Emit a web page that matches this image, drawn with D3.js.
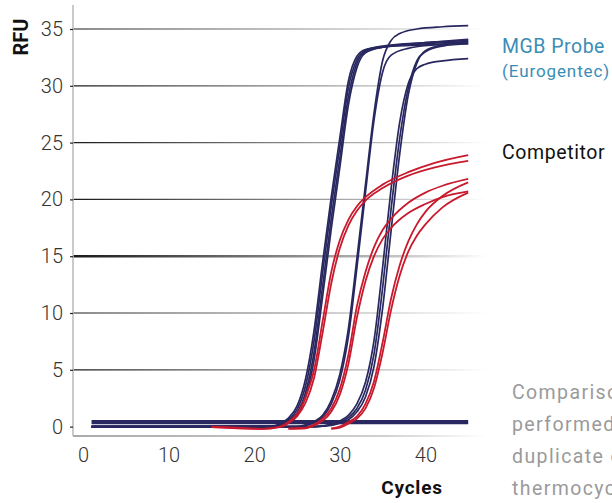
<!DOCTYPE html>
<html>
<head>
<meta charset="utf-8">
<script src="https://cdn.jsdelivr.net/npm/d3@7"></script>
<style>
  html, body { margin: 0; padding: 0; background: #fff; overflow: hidden; }
  svg { display: block; }
</style>
</head>
<body>
<svg id="chart" width="612" height="503"></svg>
<script>
// ---- Data ----
const yTicks = [0, 5, 10, 15, 20, 25, 30, 35];
const xTicks = [0, 10, 20, 30, 40];

// MGB Probe (Eurogentec) curves: [cycle, RFU]
const probeNTC = [[1, 0.4], [45, 0.4]];
const probeA1 = [[1,0],[22,0],[23,0.2],[24,0.6],[25,1.5],[26,3.6],[27,7.6],[28,13.6],[29,19.4],[30,24.6],[31,29.8],[32,32.3],[33,33.1],[35,33.5],[40,33.8],[45,34.0]];
const probeA2 = [[1,0],[22,0],[23,0.15],[24,0.5],[25,1.2],[26,3.0],[27,6.6],[28,12.4],[29,18.3],[30,23.6],[31,29.0],[32,32.0],[33,33.0],[35,33.4],[40,33.7],[45,33.9]];
const probeA3 = [[1,0],[22,0.05],[23,0.25],[24,0.75],[25,1.8],[26,4.2],[27,8.5],[28,14.5],[29,20.2],[30,25.4],[31,30.4],[32,32.6],[33,33.2],[35,33.4],[40,33.6],[45,33.7]];
const probeA4 = [[1,0],[22,0],[23,0.1],[24,0.4],[25,1.0],[26,2.6],[27,5.9],[28,11.5],[29,17.4],[30,22.8],[31,28.3],[32,31.6],[33,32.9],[35,33.4],[40,33.8],[45,34.1]];
const probeB1 = [[1,0],[25,0],[26,0.15],[27,0.45],[28,1.0],[29,2.3],[30,4.6],[31,8.6],[32,14.8],[33,21.3],[34,27.6],[35,32.2],[36,34.0],[37,34.6],[39,35.0],[42,35.2],[45,35.3]];
const probeB2 = [[1,0],[25,0],[26,0.1],[27,0.35],[28,0.85],[29,2.0],[30,4.1],[31,7.9],[32,14.0],[33,20.6],[34,27.0],[35,31.2],[36,32.7],[38,33.3],[41,33.6],[45,33.8]];
const probeC1 = [[1,0],[27,0],[29,0.2],[30,0.5],[31,1.0],[32,2.0],[33,3.9],[34,7.6],[35,14.0],[36,21.0],[37,26.8],[38,30.2],[39,31.5],[40,31.9],[42,32.2],[45,32.4]];
const probeC2 = [[1,0],[27,0],[29,0.15],[30,0.4],[31,0.8],[32,1.6],[33,3.2],[34,6.4],[35,12.2],[36,19.2],[37,25.4],[38,29.8],[39,32.2],[40,33.0],[42,33.5],[45,33.7]];
const probeC3 = [[1,0],[27,0],[29,0.1],[30,0.3],[31,0.6],[32,1.3],[33,2.6],[34,5.3],[35,10.4],[36,17.3],[37,24.0],[38,29.2],[39,32.0],[40,33.1],[42,33.6],[45,33.9]];

// Competitor curves: [cycle, RFU]
const compA1 = [[15,0],[18,-0.1],[21,-0.2],[23,0],[24,0.4],[25,1.1],[26,2.6],[27,5.0],[28,9.3],[29,13.6],[30,16.4],[31,18.2],[32,19.4],[33,20.2],[35,21.3],[38,22.4],[41,23.2],[45,23.9]];
const compA2 = [[15,-0.05],[18,-0.15],[21,-0.2],[23,-0.05],[24,0.3],[25,0.9],[26,2.1],[27,4.3],[28,8.3],[29,12.6],[30,15.7],[31,17.7],[32,19.0],[33,19.9],[35,21.0],[38,22.1],[41,22.8],[45,23.4]];
const compB1 = [[24,-0.15],[26,-0.1],[27,0.2],[28,0.7],[29,1.6],[30,3.3],[31,6.3],[32,10.6],[33,13.6],[34,15.8],[35,17.3],[36,18.3],[38,19.7],[40,20.6],[42,21.2],[45,21.8]];
const compB2 = [[24,-0.2],[26,-0.15],[27,0.1],[28,0.5],[29,1.3],[30,2.8],[31,5.5],[32,9.6],[33,12.8],[34,15.0],[35,16.5],[36,17.5],[38,18.8],[40,19.6],[42,20.2],[45,20.7]];
const compC1 = [[29,-0.15],[30,0],[31,0.4],[32,0.9],[33,2.0],[34,4.0],[35,7.4],[36,11.3],[37,14.2],[38,16.3],[39,17.8],[40,18.9],[42,20.3],[45,21.5]];
const compC2 = [[29,-0.2],[30,-0.1],[31,0.25],[32,0.7],[33,1.6],[34,3.4],[35,6.5],[36,10.3],[37,13.3],[38,15.4],[39,16.8],[40,17.8],[42,19.3],[45,20.6]];

const probeSeries = [probeA1, probeA2, probeA3, probeA4, probeB1, probeB2, probeC1, probeC2, probeC3];
const compSeries = [compA1, compA2, compB1, compB2, compC1, compC2];

const legendLabels = ["MGB Probe", "(Eurogentec)", "Competitor"];
const noteLines = ["Comparison of", "performed in", "duplicate on a", "thermocycler"];

// ---- Drawing ----
const svg = d3.select("#chart");
const navy = "#28275f";
const red = "#c8192d";
const axisX = 73, axisBottom = 436, gridEnd = 487;

const x = d3.scaleLinear().domain([0, 45]).range([83, 468.2]);
const y = d3.scaleLinear().domain([0, 35]).range([426.6, 29]);

const defs = svg.append("defs");
const g1 = defs.append("linearGradient").attr("id", "gridGrad")
  .attr("gradientUnits", "userSpaceOnUse")
  .attr("x1", axisX).attr("x2", gridEnd).attr("y1", 0).attr("y2", 0);
g1.append("stop").attr("offset", "0%").attr("stop-color", "#1a1a1a");
g1.append("stop").attr("offset", "45%").attr("stop-color", "#777");
g1.append("stop").attr("offset", "80%").attr("stop-color", "#c8c8c8");
g1.append("stop").attr("offset", "100%").attr("stop-color", "#fff");
const g2 = defs.append("linearGradient").attr("id", "axisGrad")
  .attr("gradientUnits", "userSpaceOnUse")
  .attr("x1", axisX).attr("x2", gridEnd).attr("y1", 0).attr("y2", 0);
g2.append("stop").attr("offset", "0%").attr("stop-color", "#aaa");
g2.append("stop").attr("offset", "75%").attr("stop-color", "#d0d0d0");
g2.append("stop").attr("offset", "100%").attr("stop-color", "#fff");

// gridlines
svg.append("g").selectAll("line").data(yTicks.filter(d => d > 0)).join("line")
  .attr("x1", axisX).attr("x2", gridEnd)
  .attr("y1", d => y(d)).attr("y2", d => y(d))
  .attr("stroke", "url(#gridGrad)")
  .attr("stroke-width", d => d === 15 ? 2.4 : 1.2);

// y axis line
svg.append("line").attr("x1", axisX).attr("x2", axisX).attr("y1", 5).attr("y2", axisBottom)
  .attr("stroke", "#b8b8b8").attr("stroke-width", 1.5);
// x axis line
svg.append("line").attr("x1", axisX).attr("x2", gridEnd).attr("y1", axisBottom).attr("y2", axisBottom)
  .attr("stroke", "url(#axisGrad)").attr("stroke-width", 2);

// y axis ticks/labels
const yAxis = svg.append("g").attr("transform", `translate(${axisX},0)`)
  .call(d3.axisLeft(y).tickValues(yTicks).tickSize(3).tickPadding(7).tickFormat(d3.format("d")));
yAxis.select(".domain").remove();
yAxis.selectAll(".tick line").attr("stroke", "#222").attr("stroke-width", 1.2);
yAxis.selectAll(".tick text").attr("font-family", "Roboto, sans-serif").attr("font-weight", 300)
  .attr("font-size", 20).attr("fill", "#333");

// x axis ticks/labels
const xAxis = svg.append("g").attr("transform", `translate(0,${axisBottom})`)
  .call(d3.axisBottom(x).tickValues(xTicks).tickSize(0).tickPadding(12).tickFormat(d3.format("d")));
xAxis.select(".domain").remove();
xAxis.selectAll(".tick text").attr("font-family", "Roboto, sans-serif").attr("font-weight", 300)
  .attr("font-size", 20).attr("fill", "#333");

// axis titles
svg.append("text").attr("transform", "translate(28,37) rotate(-90)")
  .attr("text-anchor", "middle").attr("font-family", "Roboto, sans-serif")
  .attr("font-weight", 700).attr("font-size", 20).attr("fill", "#111").text("RFU");
svg.append("text").attr("x", 412).attr("y", 494)
  .attr("text-anchor", "middle").attr("font-family", "Roboto, sans-serif")
  .attr("font-weight", 700).attr("font-size", 19).attr("letter-spacing", 0.8)
  .attr("fill", "#111").text("Cycles");

// curves
const line = d3.line().x(d => x(d[0])).y(d => y(d[1])).curve(d3.curveMonotoneX);

svg.append("path").datum(probeNTC).attr("d", line)
  .attr("fill", "none").attr("stroke", navy).attr("stroke-width", 4.2);

svg.append("g").selectAll("path").data(probeSeries).join("path")
  .attr("d", line).attr("fill", "none").attr("stroke", navy).attr("stroke-width", 1.7);

svg.append("g").selectAll("path").data(compSeries).join("path")
  .attr("d", line).attr("fill", "none").attr("stroke", red).attr("stroke-width", 1.8);

// legend
svg.append("text").attr("x", 502).attr("y", 53).attr("font-family", "Roboto, sans-serif")
  .attr("font-size", 19.5).attr("letter-spacing", 0.5).attr("fill", "#3a8db5").text(legendLabels[0]);
svg.append("text").attr("x", 502).attr("y", 77).attr("font-family", "Roboto, sans-serif")
  .attr("font-size", 17).attr("letter-spacing", 0.9).attr("fill", "#3a8db5").text(legendLabels[1]);
svg.append("text").attr("x", 502).attr("y", 159).attr("font-family", "Roboto, sans-serif")
  .attr("font-size", 19.5).attr("letter-spacing", 0.6).attr("fill", "#111").text(legendLabels[2]);

// side note (runs off the right edge, as in the reference)
svg.append("g").selectAll("text").data(noteLines).join("text")
  .attr("x", 512).attr("y", (d, i) => 399 + i * 32)
  .attr("font-family", "Roboto, sans-serif").attr("font-size", 19.5).attr("fill", "#9a9a9a")
  .attr("letter-spacing", 1.4)
  .text(d => d);
</script>
</body>
</html>
